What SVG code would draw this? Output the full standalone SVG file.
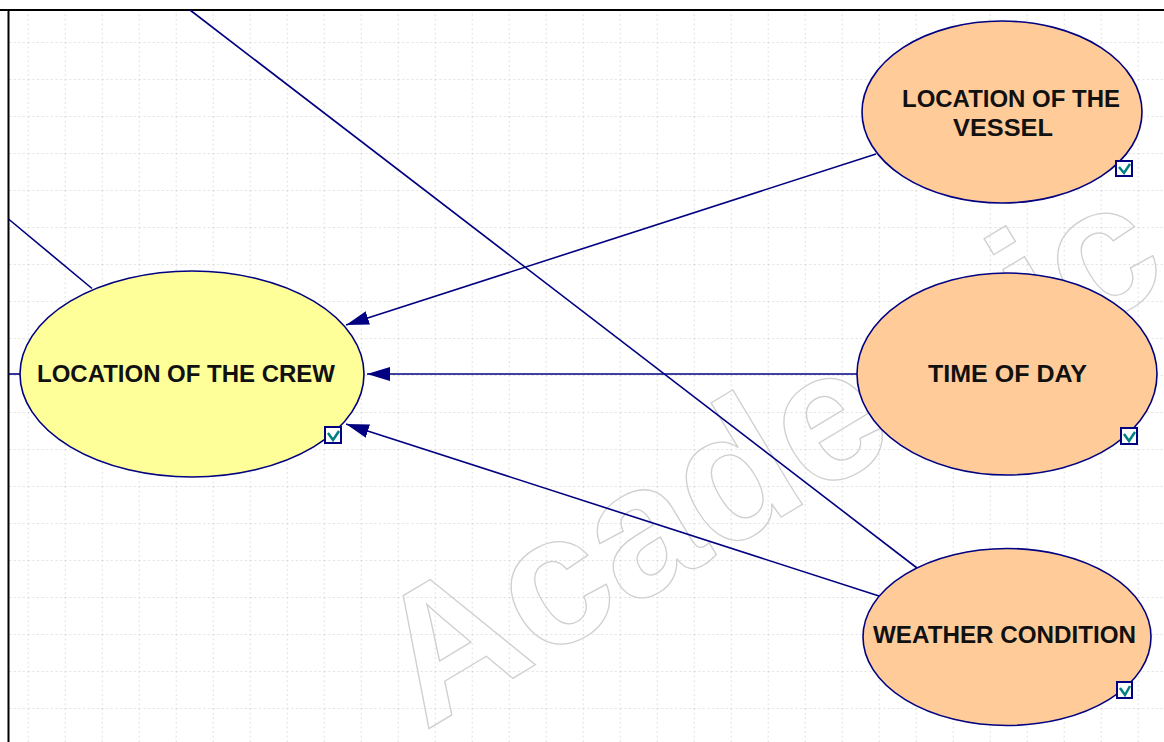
<svg xmlns="http://www.w3.org/2000/svg" width="1164" height="742" viewBox="0 0 1164 742">
<defs>
<style>
.node{stroke:#000080;stroke-width:1.6}
.crew{fill:#ffff99}
.par{fill:#ffcc99}
.lbl{font-family:"Liberation Sans",Arial,sans-serif;font-weight:bold;font-size:23px;fill:#111}
.edge{stroke:#000080;stroke-width:1.6;fill:none}
.chk{fill:#fff;stroke:#000080;stroke-width:2}
.tick{fill:none;stroke:#008080;stroke-width:2.5}
.wm{font-family:"Liberation Sans",Arial,sans-serif;font-weight:bold;font-size:185px;fill:none;stroke:#cfcfcf;stroke-width:1.3}
</style>
<pattern id="grid" x="27.7" y="5" width="37" height="37" patternUnits="userSpaceOnUse">
<path d="M0,0 V37 M0,0 H37" stroke="#c4c4c4" stroke-width="1" stroke-dasharray="2,2.6" fill="none"/>
</pattern>
<marker id="arr" markerUnits="userSpaceOnUse" markerWidth="24" markerHeight="16" refX="23" refY="7" orient="auto">
<path d="M0,0 L23,7 L0,14 Z" fill="#000080"/>
</marker>
</defs>
<rect x="0" y="0" width="1164" height="742" fill="#fff"/>
<rect x="9" y="11" width="1155" height="731" fill="url(#grid)"/>
<text class="wm" x="425" y="731" transform="rotate(-31 425 731)">Academic</text>
<path d="M0,10 H1164 M8.5,10 V742" stroke="#000" stroke-width="2" fill="none"/>
<g id="connectors">
<line class="edge" x1="190" y1="10" x2="917" y2="568"/>
<line class="edge" x1="8.5" y1="219" x2="92" y2="288.5"/>
<line class="edge" x1="8.5" y1="374" x2="20" y2="374"/>
<line class="edge" x1="876" y1="154" x2="346" y2="325" marker-end="url(#arr)"/>
<line class="edge" x1="857" y1="374" x2="367" y2="374" marker-end="url(#arr)"/>
<line class="edge" x1="879" y1="596" x2="346" y2="424" marker-end="url(#arr)"/>
</g>
<g id="crew">
<ellipse class="node crew" cx="192" cy="374" rx="172" ry="103"/>
<text class="lbl" x="37" y="382" textLength="298" lengthAdjust="spacingAndGlyphs">LOCATION OF THE CREW</text>
<rect class="chk" x="325" y="427" width="16" height="16"/>
<path class="tick" d="M328,433 L333,440 L339,431"/>
</g>
<g id="vessel">
<ellipse class="node par" cx="1002" cy="112" rx="140" ry="91"/>
<text class="lbl" x="902" y="107" textLength="218" lengthAdjust="spacingAndGlyphs">LOCATION OF THE</text>
<text class="lbl" x="953" y="136" textLength="100" lengthAdjust="spacingAndGlyphs">VESSEL</text>
<rect class="chk" x="1116" y="161" width="16" height="15"/>
<path class="tick" d="M1119,167 L1124,173 L1130,164"/>
</g>
<g id="time">
<ellipse class="node par" cx="1007" cy="374" rx="150" ry="101"/>
<text class="lbl" x="928" y="382" textLength="159" lengthAdjust="spacingAndGlyphs">TIME OF DAY</text>
<rect class="chk" x="1121" y="428" width="16" height="16"/>
<path class="tick" d="M1124,434 L1129,441 L1135,432"/>
</g>
<g id="weather">
<ellipse class="node par" cx="1007" cy="637" rx="144" ry="88.5"/>
<text class="lbl" x="873" y="643" textLength="263" lengthAdjust="spacingAndGlyphs">WEATHER CONDITION</text>
<rect class="chk" x="1117" y="682" width="15" height="16"/>
<path class="tick" d="M1120,688 L1125,695 L1130,686"/>
</g>
</svg>
